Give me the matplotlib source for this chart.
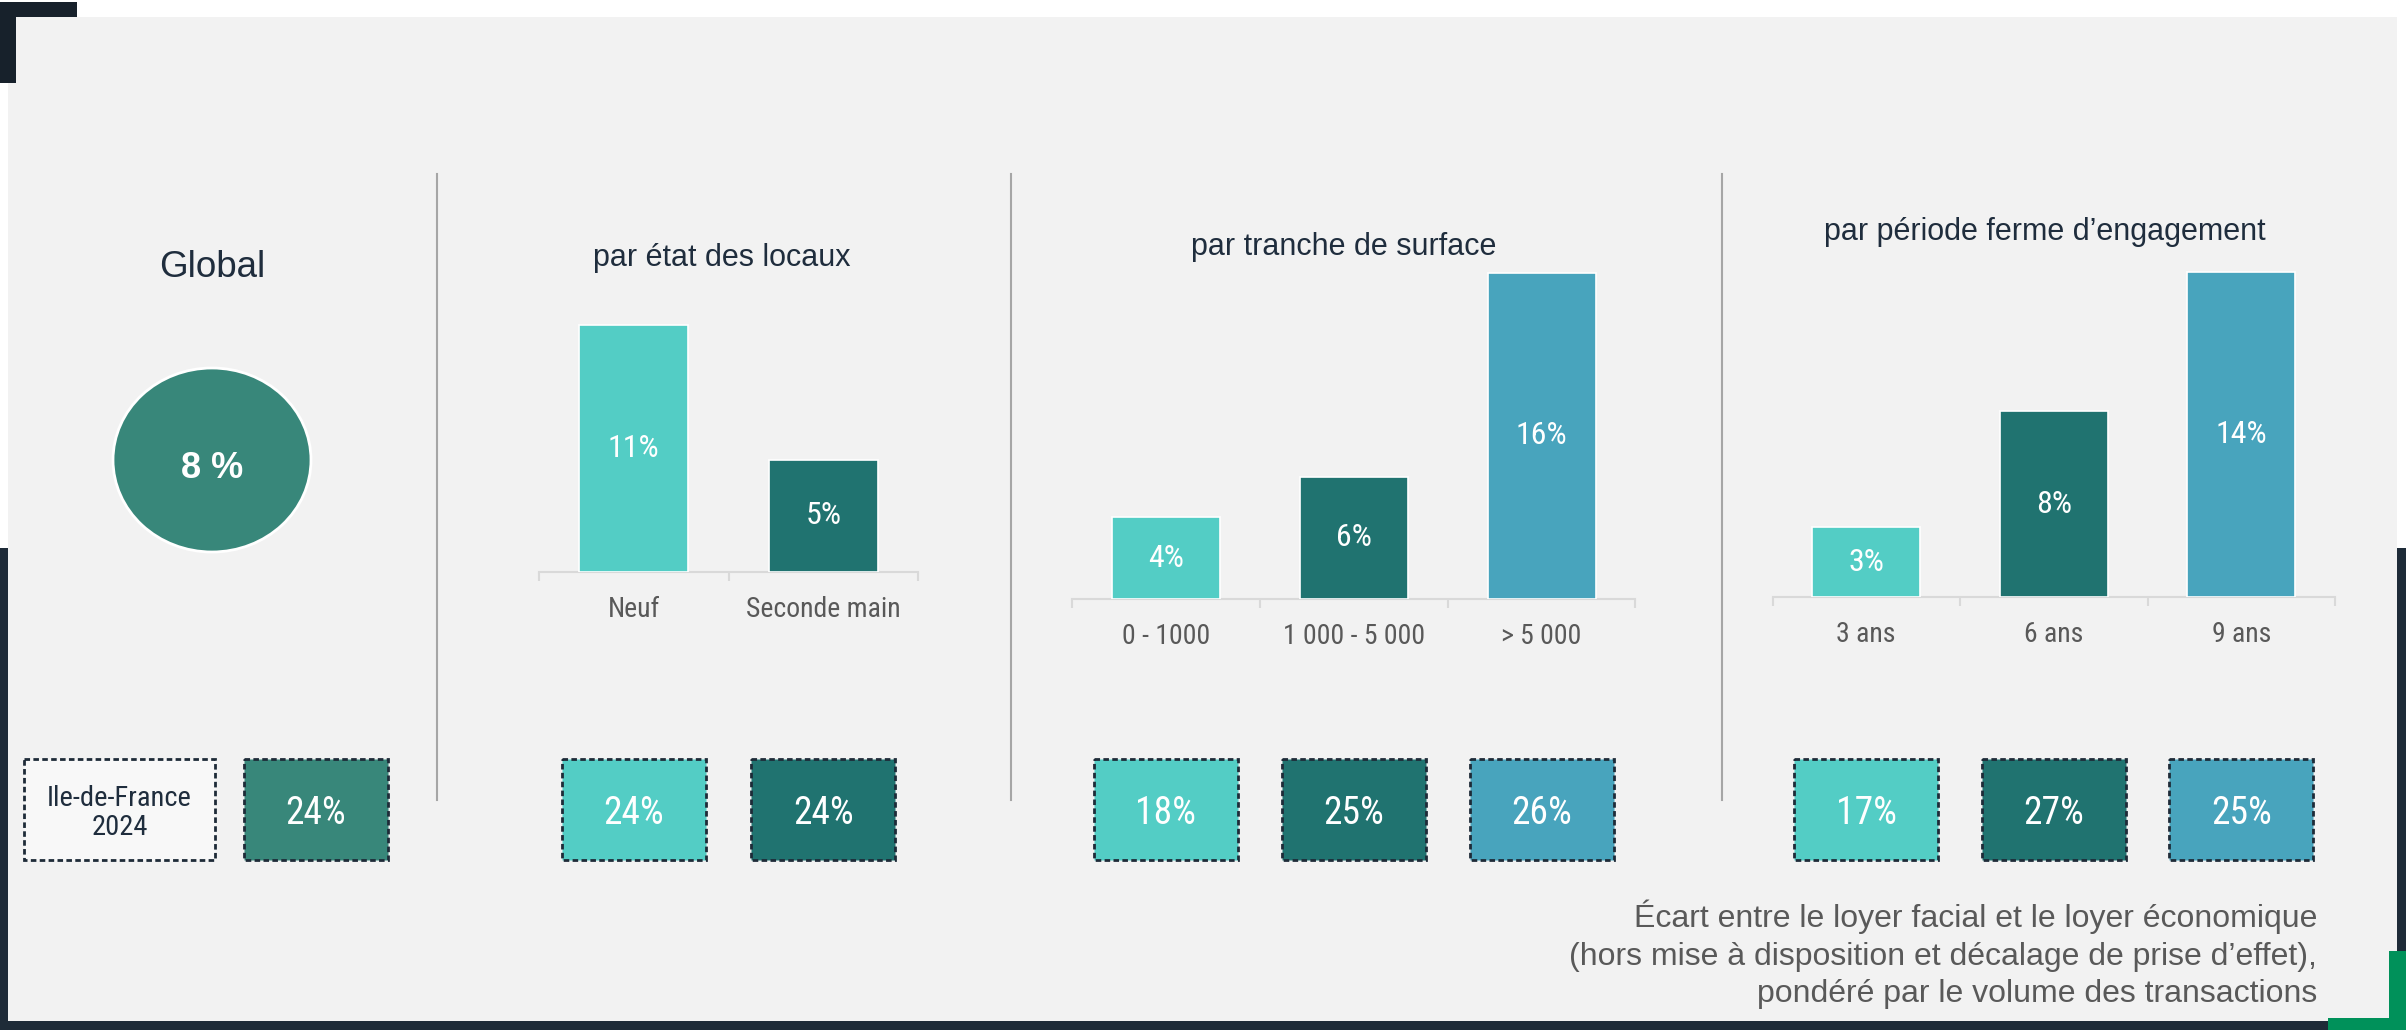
import matplotlib.pyplot as plt
from matplotlib import transforms
from matplotlib.patches import Rectangle, Ellipse

# Ecart loyer facial / loyer économique, Ile-de-France
global_value = 8
idf_label = 'Ile-de-France\n2024'
idf_global = 24

etat_title = 'par état des locaux'
etat_labels = ['Neuf', 'Seconde main']
etat_values = [11, 5]
etat_idf = [24, 24]

surface_title = 'par tranche de surface'
surface_labels = ['0 - 1000', '1 000 - 5 000', '> 5 000']
surface_values = [4, 6, 16]
surface_idf = [18, 25, 26]

periode_title = 'par période ferme d’engagement'
periode_labels = ['3 ans', '6 ans', '9 ans']
periode_values = [3, 8, 14]
periode_idf = [17, 27, 25]

footnote = ['Écart entre le loyer facial et le loyer économique',
            '(hors mise à disposition et décalage de prise d’effet),',
            'pondéré par le volume des transactions']

TURQ, TEAL, BLUE, GREEN = '#53cdc5', '#207370', '#48a4bd', '#38877a'
NAVY = '#1e2b38'
TITLE = '#1f2d3d'
GREY_TXT = '#595959'
AXIS = '#d9d9d9'

W, H = 2406, 1030
NARROW = ['Roboto Condensed', 'Liberation Sans', 'DejaVu Sans']
plt.rcParams['font.family'] = ['Liberation Sans', 'DejaVu Sans']

fig = plt.figure(figsize=(W / 100, H / 100), dpi=100, facecolor='white')
bg = fig.add_axes([0, 0, 1, 1])
bg.set_xlim(0, W)
bg.set_ylim(H, 0)
bg.axis('off')


def px_axes(x0, y0, x1, y1):
    return fig.add_axes([x0 / W, 1 - y1 / H, (x1 - x0) / W, (y1 - y0) / H])


def idf_box(ax, x, w, color, text, tr, size=27, txt_color='white'):
    ax.add_patch(Rectangle((x - w / 2, 759), w, 101, transform=tr, fc=color,
                           ec=NAVY, lw=2, ls=(0, (2, 1.2)), clip_on=False))
    ax.text(x, 813, text, transform=tr, ha='center', va='center',
            color=txt_color, fontsize=size, family=NARROW, linespacing=1.1)


# background frame
bg.add_patch(Rectangle((0, 548), W, H - 548, fc=NAVY, lw=0))
bg.add_patch(Rectangle((8, 17), 2389, 1004, fc='#f2f2f2', lw=0))
bg.add_patch(Rectangle((0, 2), 77, 15, fc='#17212b', lw=0))
bg.add_patch(Rectangle((0, 2), 16, 81, fc='#17212b', lw=0))
bg.add_patch(Rectangle((2389, 951), 17, 79, fc='#00915a', lw=0))
bg.add_patch(Rectangle((2328, 1018), 78, 12, fc='#00915a', lw=0))

for x in (437, 1011, 1722):
    bg.plot([x, x], [174, 800], color='#a6a6a6', lw=1.5)

# global block
bg.text(212, 277, 'Global', ha='center', va='baseline', fontsize=26.5, color=TITLE)
bg.add_patch(Ellipse((212, 460), 198, 184, fc=GREEN, ec='white', lw=2))
bg.text(212, 478, f'{global_value} %', ha='center', va='baseline',
        fontsize=26, weight='bold', color='white')
idf_box(bg, 119.5, 191, '#f8f8f8', idf_label, bg.transData, size=20.5, txt_color=TITLE)
idf_box(bg, 316, 144, GREEN, f'{idf_global}%', bg.transData)


def bar_panel(x0, x1, base, labels, values, idf_values, colors, scale, title, title_x, title_y):
    top = base - 420
    ax = px_axes(x0, top, x1, base)
    ax.set_facecolor('none')
    n = len(values)
    pos = list(range(n))
    bars = ax.bar(pos, values, width=0.575, color=colors, edgecolor='white',
                  linewidth=1.2, zorder=3)
    ax.bar_label(bars, labels=[f'{v}%' for v in values], label_type='center',
                 color='white', fontsize=23, family=NARROW)
    ax.set_xlim(-0.5, n - 0.5)
    ax.set_ylim(0, 420 / scale)
    for s in ('left', 'right', 'top'):
        ax.spines[s].set_visible(False)
    ax.spines['bottom'].set_color(AXIS)
    ax.spines['bottom'].set_linewidth(1.5)
    ax.set_yticks([])
    ax.set_xticks(pos, labels)
    ax.set_xticks([i - 0.5 for i in range(n + 1)], minor=True)
    ax.tick_params(axis='x', which='major', length=0, pad=17, labelsize=20,
                   labelcolor=GREY_TXT)
    ax.tick_params(axis='x', which='minor', length=6.5, width=1.5, color=AXIS)
    for lab in ax.get_xticklabels():
        lab.set_family(NARROW)

    tr = transforms.blended_transform_factory(ax.transData, bg.transData)
    bw = 144 / ((x1 - x0) / n)
    for i, (v, c) in enumerate(zip(idf_values, colors)):
        idf_box(ax, i, bw, c, f'{v}%', tr)

    bg.text(title_x, title_y, title, ha='center', va='baseline', fontsize=22, color=TITLE)


bar_panel(539, 918, 572, etat_labels, etat_values, etat_idf, [TURQ, TEAL],
          22.5, etat_title, 722, 266)
bar_panel(1072, 1635.5, 599, surface_labels, surface_values, surface_idf,
          [TURQ, TEAL, BLUE], 20.4, surface_title, 1344, 255)
bar_panel(1772.5, 2335, 597, periode_labels, periode_values, periode_idf,
          [TURQ, TEAL, BLUE], 23.2, periode_title, 2045, 240)

# note
for line, y in zip(footnote, (927, 965, 1002)):
    bg.text(2317, y, line, ha='right', va='baseline', fontsize=23, color=GREY_TXT)

fig.savefig('out.png', dpi=100, facecolor=fig.get_facecolor())
